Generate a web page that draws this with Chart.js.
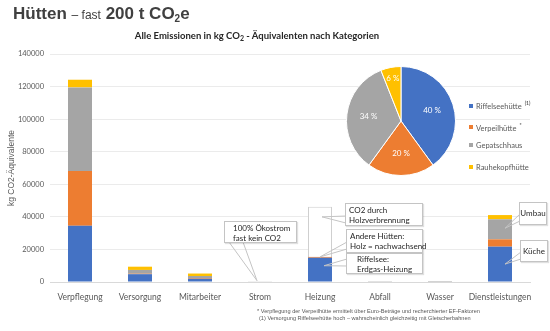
<!DOCTYPE html>
<html lang="de">
<head>
  <meta charset="UTF-8" />
  <title>Hütten – Emissionen nach Kategorien</title>
  <script src="https://cdn.jsdelivr.net/npm/chart.js"></script>
  <style>
    body { margin: 0; background: #fff; font-family: Lato, "Open Sans", sans-serif; }
    #page { position: relative; width: 550px; height: 331px; overflow: hidden; }
    .abs { position: absolute; }
    #barWrap { left: 0; top: 0; width: 550px; height: 331px; }
    #pieWrap { left: 346px; top: 66px; width: 110px; height: 110px; }

    .headline { left: 13px; top: 4px; font-family: "Liberation Sans", Arial, sans-serif; color: #404040;
                font-size: 17px; font-weight: bold; white-space: nowrap; }
    .headline .thin { font-weight: normal; font-size: 12px; }
    .headline sub { font-size: 10px; vertical-align: -3px; }
    .subtitle { left: 0; top: 30px; width: 514px; text-align: center; font-weight: bold; font-size: 9.5px;
                color: #262626; white-space: nowrap; }
    .subtitle sub { font-size: 7px; vertical-align: -2px; }

    .legend { left: 469px; top: 97px; font-size: 7.5px; color: #595959; }
    .legend div { height: 21.5px; line-height: 12px; white-space: nowrap; }
    .legend i { display: inline-block; width: 4px; height: 4px; margin-right: 3px; vertical-align: 1px; }
    .legend sup { font-size: 5px; font-weight: bold; margin-left: 3px; }

    .box { background: #fff; border: 1px solid #c4c4c4; box-shadow: 1px 1px 1px rgba(0,0,0,0.12);
           font-size: 8px; line-height: 10px; color: #262626; white-space: nowrap; box-sizing: border-box; }
    .note { left: 257px; font-family: "Liberation Sans", Arial, sans-serif; font-size: 5.6px; color: #595959; white-space: nowrap; }
  </style>
</head>
<body>
<div id="page">
  <div class="abs" id="barWrap"><canvas id="barChart"></canvas></div>
  <div class="abs" id="pieWrap"><canvas id="pieChart"></canvas></div>

  <div class="abs headline">Hütten <span class="thin">– fast</span> 200 t CO<sub>2</sub>e</div>
  <div class="abs subtitle">Alle Emissionen in kg CO<sub>2</sub> - Äquivalenten nach Kategorien</div>

  <div class="abs legend" id="legend"></div>

  <!-- callouts -->
  <div class="abs box" style="left:224px;top:221px;width:73px;height:22px;padding:1px 0 0 8px;">100% Ökostrom<br>fast kein CO2</div>
  <div class="abs box" style="left:345px;top:203px;width:78px;height:23px;padding:1px 0 0 3px;">CO2 durch<br>Holzverbrennung</div>
  <div class="abs box" style="left:346px;top:229px;width:77px;height:24px;padding:1px 0 0 3px;">Andere Hütten:<br>Holz = nachwachsend</div>
  <div class="abs box" style="left:346px;top:253px;width:77px;height:21px;padding:0 0 0 10px;">Riffelsee:<br>Erdgas-Heizung</div>
  <div class="abs box" style="left:519px;top:202px;width:28px;height:23px;line-height:21px;text-align:center;">Umbau</div>
  <div class="abs box" style="left:520px;top:240px;width:28px;height:22px;line-height:20px;text-align:center;">Küche</div>

  <div class="abs note" style="top:308px;">* Verpflegung der Verpeilhütte ermittelt über Euro-Beträge und recherchierter EF-Faktoren</div>
  <div class="abs note" style="top:315px;left:259px;">(1) Versorgung Riffelseehütte hoch – wahrscheinlich gleichzeitig mit Gletscherbahnen</div>
</div>

<script>
  // values (kg CO2-Äquivalente)
  const categories = ["Verpflegung", "Versorgung", "Mitarbeiter", "Strom", "Heizung", "Abfall", "Wasser", "Dienstleistungen"];
  const riffelsee  = [34500, 4800, 2000,   0, 14900,   0,   0, 21700];
  const verpeil    = [33700,  300,  400,   0,   500,   0, 300,  4500];
  const gepatsch   = [51300, 2300, 1300, 400,     0, 500, 300, 12300];
  const rauhekopf  = [ 4700, 2000, 1500,   0,     0,   0,   0,  2600];
  const holzCO2    = [    0,    0,    0,   0, 30800,   0,   0,     0];   // not counted, outline only
  const yMax = 140000, yStep = 20000;

  const huetten   = ["Riffelseehütte", "Verpeilhütte", "Gepatschhaus", "Rauhekopfhütte"];
  const marks     = ["(1)", "*", "", ""];
  const pieShares = [40, 20, 34, 6];
  const colors    = ["#4472C4", "#ED7D31", "#A5A5A5", "#FFC000"];

  // legend
  document.getElementById("legend").innerHTML = huetten.map((h, i) =>
    `<div><i style="background:${colors[i]}"></i>${h}${marks[i] ? `<sup>${marks[i]}</sup>` : ""}</div>`).join("");

  // callout wedges: tip given in data units, base on the box edge (page px)
  const wedges = [
    { cat: 3, val: 800,   dx: -3, base: [[229, 242], [243, 242]] },
    { cat: 4, val: 40000, dx: 2,  base: [[346, 216], [346, 223]] },
    { cat: 4, val: 15400, dx: 0,  base: [[347, 242], [347, 249]] },
    { cat: 4, val: 10000, dx: 4,  base: [[347, 259], [347, 266]] },
    { cat: 7, val: 33000, dx: 5,  base: [[520, 214], [520, 221]] },
    { cat: 7, val: 11000, dx: 5,  base: [[521, 252], [521, 259]] }
  ];

  const wedgePlugin = {
    id: "wedges",
    afterDraw(chart) {
      const { ctx, scales: { x, y } } = chart;
      ctx.save();
      ctx.strokeStyle = "#c4c4c4";
      ctx.lineWidth = 1;
      wedges.forEach(w => {
        const tx = x.getPixelForValue(w.cat) + w.dx;
        const ty = y.getPixelForValue(w.val);
        ctx.beginPath();
        ctx.moveTo(w.base[0][0], w.base[0][1]);
        ctx.lineTo(tx, ty);
        ctx.lineTo(w.base[1][0], w.base[1][1]);
        ctx.stroke();
      });
      ctx.restore();
    }
  };

  const seriesOf = [riffelsee, verpeil, gepatsch, rauhekopf];
  const datasets = seriesOf.map((d, i) => ({
    label: huetten[i],
    data: d,
    backgroundColor: colors[i],
    barPercentage: 0.4,
    categoryPercentage: 1
  }));
  datasets.push({
    label: "Holz",
    data: holzCO2,
    backgroundColor: "#ffffff",
    borderColor: "#cfcfcf",
    borderWidth: 1,
    barPercentage: 0.4,
    categoryPercentage: 1
  });

  new Chart(document.getElementById("barChart"), {
    type: "bar",
    data: { labels: categories, datasets },
    options: {
      responsive: true,
      maintainAspectRatio: false,
      animation: false,
      layout: { padding: { top: 54, right: 20, bottom: 29, left: 0 } },
      plugins: { legend: { display: false }, tooltip: { enabled: false } },
      scales: {
        x: {
          stacked: true,
          grid: { display: false },
          border: { color: "#d9d9d9" },
          ticks: { color: "#595959", font: { family: "Lato", size: 8.5 }, padding: 2, maxRotation: 0, autoSkip: false },
          afterFit: s => { s.height = 20; }
        },
        y: {
          stacked: true,
          min: 0, max: yMax,
          grid: { color: "#ebebeb", drawTicks: false },
          border: { display: false },
          ticks: { stepSize: yStep, color: "#595959", font: { family: "Lato", size: 7.5 }, padding: 6,
                   callback: v => String(v) },
          title: { display: true, text: "kg CO2-Äquivalente", color: "#595959",
                   font: { family: "Liberation Sans", size: 8.5 }, padding: { top: 7, bottom: 0 } },
          afterFit: s => { s.width = 50; }
        }
      }
    },
    plugins: [wedgePlugin]
  });

  const sliceLabels = {
    id: "sliceLabels",
    afterDatasetsDraw(chart) {
      const { ctx } = chart;
      ctx.save();
      ctx.fillStyle = "#ffffff";
      ctx.font = "8px Lato";
      ctx.textAlign = "center";
      ctx.textBaseline = "middle";
      chart.getDatasetMeta(0).data.forEach((arc, i) => {
        const p = arc.getProps(["x", "y", "startAngle", "endAngle", "outerRadius"], true);
        const mid = (p.startAngle + p.endAngle) / 2;
        const r = p.outerRadius * (pieShares[i] < 10 ? 0.8 : 0.6);
        ctx.fillText(pieShares[i] + " %", p.x + Math.cos(mid) * r, p.y + Math.sin(mid) * r);
      });
      ctx.restore();
    }
  };

  new Chart(document.getElementById("pieChart"), {
    type: "pie",
    data: {
      labels: huetten,
      datasets: [{ data: pieShares, backgroundColor: colors, borderColor: "#ffffff", borderWidth: 1 }]
    },
    options: {
      responsive: true,
      maintainAspectRatio: false,
      animation: false,
      layout: { padding: 0 },
      plugins: { legend: { display: false }, tooltip: { enabled: false } }
    },
    plugins: [sliceLabels]
  });
</script>
</body>
</html>
